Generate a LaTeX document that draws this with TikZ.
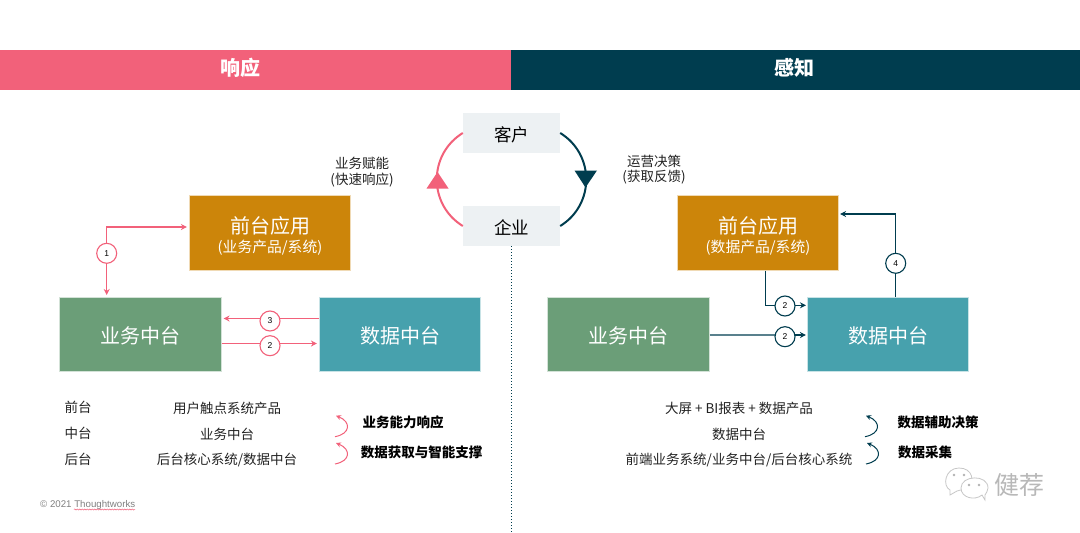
\documentclass[tikz,border=0pt]{standalone}
\usepackage{fontspec}
\setmainfont{Noto Sans CJK SC}
\newfontfamily\latinf{Liberation Sans}
\usetikzlibrary{arrows.meta,decorations.pathmorphing}
\definecolor{wave}{HTML}{003D4F}
\definecolor{flam}{HTML}{F2617A}
\definecolor{must}{HTML}{CC850A}
\definecolor{jade}{HTML}{6B9E78}
\definecolor{saph}{HTML}{47A1AD}
\definecolor{mist}{HTML}{EDF1F3}
\definecolor{txt}{HTML}{222222}
\newcommand{\fs}[1]{\fontsize{#1pt}{#1pt}\selectfont}
\newcommand{\dn}[2][3.5pt]{\setbox0=\hbox{#2}\ht0=\dimexpr\ht0+#1\relax\box0 }
\newcommand{\twoline}[2]{\dn[9pt]{\begin{tabular}{@{}c@{}}#1\\[-1pt]{\fs{14.8}#2}\end{tabular}}}
\tikzset{
  x=1pt,y=-1pt,
  box/.style={draw=white!70!#1,line width=.6pt,fill=#1,text=white,minimum width=161.5pt,minimum height=74.5pt,inner sep=0pt,align=center,font=\fs{20}},
  cust/.style={fill=mist,text=black,minimum width=97pt,minimum height=40pt,inner sep=0pt,font=\fs{17.5}},
  head/.style={fill=#1,text=white,minimum height=40pt,inner sep=0pt,font=\fs{20}\bfseries},
  lab/.style={text=txt,inner sep=0pt,font=\fs{13.5},align=center},
  blab/.style={text=black,inner sep=0pt,font=\fs{13.5}\bfseries},
  num/.style={circle,draw=#1,line width=1.1pt,fill=white,text=black,minimum size=20pt,inner sep=0pt,font=\latinf\fs{8.5}},
  parr/.style={draw=flam,line width=1.2pt,-{Stealth[length=6pt,width=6pt]},shorten >=2pt},
  darr/.style={draw=wave,line width=1.2pt,-{Stealth[length=6pt,width=6pt]},shorten >=1pt},
  dline/.style={draw=wave,line width=1.2pt},
  loopa/.style={draw=#1,line width=1pt,-{Stealth[length=5pt,width=5pt]}},
  wm/.style={draw=black!22,fill=white,line width=.8pt},
}
\begin{document}
\begin{tikzpicture}
\useasboundingbox (0,0) rectangle (1080,533);
\fill[white] (0,0) rectangle (1080,533);
% headers
\node[head=flam,minimum width=511pt] (hl) at (255.5,70) {};
\node[head=wave,minimum width=569pt] (hr) at (795.5,70) {};
\node[text=white,inner sep=0pt,font=\fs{20}\bfseries] (hlt) at (240,68) {响应};
\node[text=white,inner sep=0pt,font=\fs{20}\bfseries] (hrt) at (794,68) {感知};
% customer / enterprise
\node[cust] (ke) at (511.5,133) {\dn{客户}};
\node[cust] (qi) at (511.5,226) {\dn{企业}};
\draw[draw=flam,line width=2pt] (qi.west) .. controls +(-34.7,-21.3) and +(-34.7,21.3) .. (ke.west);
\draw[draw=wave,line width=2pt] (ke.east) .. controls +(34.7,21.3) and +(34.7,-21.3) .. (qi.east);
\fill[flam] (437.5,172) -- (448.5,188.5) -- (426.5,188.5) -- cycle;
\fill[wave] (574.5,170.5) -- (597,170.5) -- (585.5,187.5) -- cycle;
\draw[wave,line width=1pt,dotted] (qi.south) -- (511.5,533);
\node[lab] (t1) at (362,163.5) {业务赋能};
\node[lab] (t2) at (362,180.5) {(快速响应)};
\node[lab] (t3) at (654,161) {运营决策};
\node[lab] (t4) at (654,177.5) {(获取反馈)};
% left boxes
\node[box=must] (fl) at (270,233) {\twoline{前台应用}{(业务产品/系统)}};
\node[box=jade] (bl) at (140.5,334.5) {\dn{业务中台}};
\node[box=saph] (dl) at (400,334.5) {\dn{数据中台}};
% right boxes
\node[box=must] (fr) at (758,233) {\twoline{前台应用}{(数据产品/系统)}};
\node[box=jade] (br) at (628.5,334.5) {\dn{业务中台}};
\node[box=saph] (dr) at (888,334.5) {\dn{数据中台}};
% left connectors
\node[num=flam] (c1) at (106.7,253.3) {1};
\draw[parr] (c1) |- ([yshift=6pt]fl.west);
\draw[parr] (c1) -- (c1 |- bl.north);
\draw[parr] ([yshift=16pt]dl.west) -- ([yshift=16pt]bl.east);
\draw[parr] ([yshift=-9pt]bl.east) -- ([yshift=-9pt]dl.west);
\node[num=flam] (c3) at (270,321) {3};
\node[num=flam] (c2) at (270,345.7) {2};
% right connectors
\node[num=wave] (c4) at (895.7,263.3) {4};
\draw[dline] (c4) -- (c4 |- dr.north);
\draw[darr] (c4) |- ([yshift=19pt]fr.east);
\coordinate (elbow) at (765.7,305.3);
\draw[dline] (fr.south -| elbow) -- (elbow) -- (785,305.3);
\draw[darr] (elbow) -- (elbow -| dr.west);
\draw[line width=1.8pt,draw=wave!65!white] (br.east |- 0,335) -- (785,335);
\draw[darr] (785,335) -- (dr.west |- 0,335);
\node[num=wave] (c5) at (785,306) {2};
\node[num=wave] (c6) at (785,336.7) {2};
% left text
\node[lab] (a1) at (78,407) {前台};
\node[lab] (a2) at (78,433) {中台};
\node[lab] (a3) at (78,459) {后台};
\node[lab] (b1) at (227,408) {用户触点系统产品};
\node[lab] (b2) at (227,434) {业务中台};
\node[lab] (b3) at (227,460) {后台核心系统/数据中台};
\node[blab] (e1) at (403,422) {业务能力响应};
\node[blab] (e2) at (421.7,452.7) {数据获取与智能支撑};
\coordinate (l1s) at (335,436.7); \coordinate (l1e) at (336,415.7);
\coordinate (l2s) at (335,464); \coordinate (l2e) at (336,443);
\draw[loopa=flam] (l1s) .. controls +(16,-3) and +(15,6) .. (l1e);
\draw[loopa=flam] (l2s) .. controls +(16,-3) and +(15,6) .. (l2e);
% right text
\node[lab] (f1) at (739,408) {大屏 + BI报表 + 数据产品};
\node[lab] (f2) at (739,434) {数据中台};
\node[lab] (f3) at (739,460) {前端业务系统/业务中台/后台核心系统};
\node[blab] (g1) at (938,422) {数据辅助决策};
\node[blab] (g2) at (925,452.7) {数据采集};
\coordinate (r1s) at (865,436.7); \coordinate (r1e) at (866,415.7);
\coordinate (r2s) at (866,464); \coordinate (r2e) at (867,443);
\draw[loopa=wave] (r1s) .. controls +(16,-3) and +(15,6) .. (r1e);
\draw[loopa=wave] (r2s) .. controls +(16,-3) and +(15,6) .. (r2e);
% copyright
\node[anchor=west,inner sep=0pt,text=black!50,font=\latinf\fs{9.7}] (cp) at (40,505) {© 2021 Thoughtworks};
\draw[flam,line width=.5pt,decorate,decoration={snake,amplitude=.6pt,segment length=2.5pt}] (74,509.5) -- (135,509.5);
% watermark
\draw[wm] (950,495) -- (950,490) .. controls (942,486) and (945,468) .. (959,468) .. controls (973,468) and (975,482) .. (968,488) -- (957,491) -- cycle;
\draw[wm] (985,500) -- (982,495) .. controls (975,501) and (961,498) .. (961,488) .. controls (961,475) and (988,474) .. (988,488) .. controls (988,491) and (986,493) .. (985,495) -- cycle;
\fill[black!30] (954,475) circle (1.3) (964,475) circle (1.3) (969,485) circle (1.3) (979,485) circle (1.3);
\node[inner sep=0pt,text=black!28,font=\fs{25}] (w) at (1019,485) {健荐};
\end{tikzpicture}
\end{document}
